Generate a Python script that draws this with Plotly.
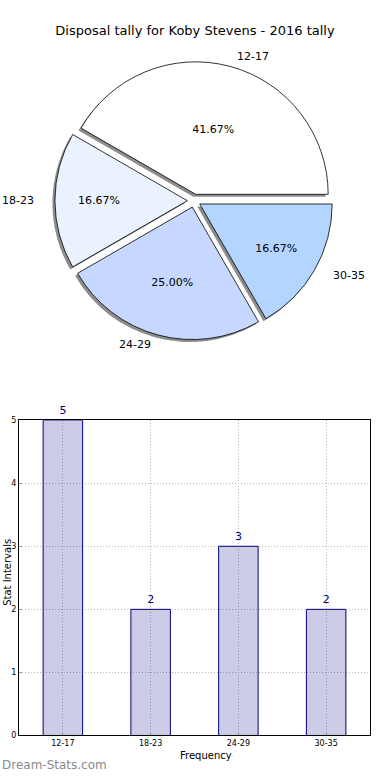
import math
import plotly.graph_objects as go

categories = ["12-17", "18-23", "24-29", "30-35"]
counts = [5, 2, 3, 2]
pie_colors = ["#ffffff", "#ebf2ff", "#c6d8ff", "#b4d5ff"]
title_text = "Disposal tally for Koby Stevens - 2016 tally"

W, H = 390, 780
FONT = "DejaVu Sans"

# pie geometry (pixels)
cx, cy, r = 194, 199, 134
pull = 0.05
half = r * (1 + pull)
total = sum(counts)
# first slice starts at 3 o'clock, going counterclockwise (plotly measures clockwise from top)
rotation = 90 - 360 * counts[0] / total

def px_dom(x0, x1, y0, y1):
    return dict(x=[x0 / W, x1 / W], y=[1 - y1 / H, 1 - y0 / H])

fig = go.Figure()

# shadow
fig.add_trace(go.Pie(
    labels=categories, values=counts, sort=False, direction="counterclockwise",
    rotation=rotation, pull=pull, textinfo="none", hoverinfo="skip",
    marker=dict(colors=["rgba(0,0,0,0.45)"] * len(counts), line=dict(width=0)),
    domain=px_dom(cx - half - 2.5, cx + half - 2.5, cy - half + 2.5, cy + half + 2.5),
    showlegend=False,
))
# main pie
fig.add_trace(go.Pie(
    labels=categories, values=counts, sort=False, direction="counterclockwise",
    rotation=rotation, pull=pull, texttemplate="%{percent:.2%}", textposition="inside",
    insidetextorientation="horizontal",
    textfont=dict(family=FONT, size=11, color="black"),
    marker=dict(colors=pie_colors, line=dict(color="black", width=0.8)),
    domain=px_dom(cx - half, cx + half, cy - half, cy + half),
    showlegend=False,
))

# outside labels computed from the data angles
annotations = []
cum = 0
rx, ry = 138, 131
for lab, v in zip(categories, counts):
    mid = 2 * math.pi * (cum + v / 2) / total
    cum += v
    ox = cx + pull * r * math.cos(mid)
    oy = cy - pull * r * math.sin(mid)
    lx = ox + 1.1 * rx * math.cos(mid)
    ly = oy - 1.1 * ry * math.sin(mid)
    annotations.append(dict(
        x=lx / W, y=1 - ly / H, xref="paper", yref="paper", text=lab, showarrow=False,
        xanchor="left" if math.cos(mid) > 0 else "right", yanchor="middle",
        font=dict(family=FONT, size=11, color="black"),
    ))

# bar chart
fig.add_trace(go.Bar(
    x=categories, y=counts, text=[str(c) for c in counts], textposition="outside",
    textfont=dict(family=FONT, size=11, color="#000080"),
    marker=dict(color="rgba(0,0,128,0.2)", line=dict(color="#000080", width=1)),
    width=0.45, cliponaxis=False, xaxis="x", yaxis="y", showlegend=False,
    hoverinfo="skip",
))

annotations += [
    dict(x=206 / W, y=1 - 760 / H, xref="paper", yref="paper", text="Frequency",
         showarrow=False, yanchor="middle", font=dict(family=FONT, size=10, color="black")),
    dict(x=0, y=1 - 575 / H, xref="paper", yref="paper", text="Stat Intervals",
         showarrow=False, textangle=-90, xanchor="left", yanchor="middle",
         font=dict(family=FONT, size=10, color="black")),
    dict(x=0, y=1 - 770 / H, xref="paper", yref="paper", text="Dream-Stats.com",
         showarrow=False, xanchor="left", yanchor="middle",
         font=dict(family=FONT, size=12, color="#8a8a8a")),
]

axis_common = dict(
    showline=True, linecolor="black", linewidth=1, mirror=True,
    ticks="inside", ticklen=3, tickcolor="#999",
    showgrid=True, gridcolor="#b8b8b8", griddash="1px,2px", gridwidth=1,
    tickfont=dict(family=FONT, size=8, color="black"), zeroline=False,
)

fig.update_layout(
    width=W, height=H, margin=dict(l=0, r=0, t=0, b=0),
    paper_bgcolor="white", plot_bgcolor="white",
    title=dict(text=title_text, x=0.5, xanchor="center", y=1 - 30 / H, yanchor="middle",
               font=dict(family=FONT, size=13, color="black")),
    xaxis=dict(domain=[19 / W, 370 / W], anchor="y", range=[-0.5, 3.5], **axis_common),
    yaxis=dict(domain=[1 - 740 / H, 1 - 421 / H], anchor="x", range=[0, 5], dtick=1,
               **axis_common),
    annotations=annotations,
    font=dict(family=FONT),
)

fig.write_html("out.html", config={"displayModeBar": False},
               post_script="document.body.style.margin='0';document.body.style.overflow='hidden';")
